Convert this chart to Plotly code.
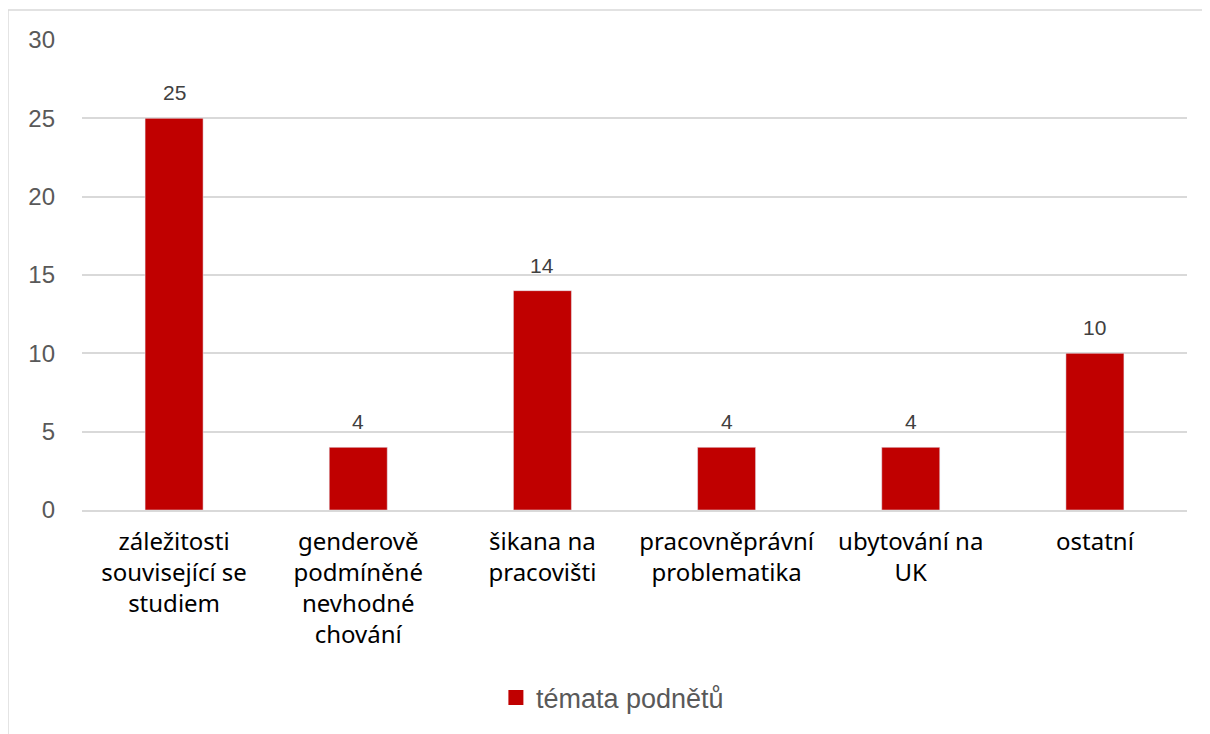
import plotly.graph_objects as go

categories = [
    "záležitosti<br>související se<br>studiem",
    "genderově<br>podmíněné<br>nevhodné<br>chování",
    "šikana na<br>pracovišti",
    "pracovněprávní<br>problematika",
    "ubytování na<br>UK",
    "ostatní",
]
values = [25, 4, 14, 4, 4, 10]
series_name = "témata podnětů"
y_ticks = [0, 5, 10, 15, 20, 25, 30]
bar_color = "#C00000"

fig = go.Figure()
fig.add_trace(go.Bar(
    x=categories, y=values, name=series_name,
    marker_color=bar_color, width=0.315, showlegend=False,
))
# legend entry with a larger square swatch
fig.add_trace(go.Scatter(
    x=[None], y=[None], mode="markers", name=series_name,
    marker=dict(symbol="square", size=15, color=bar_color),
))

for c, v in zip(categories, values):
    fig.add_annotation(x=c, y=v, text=str(v), showarrow=False,
                       yanchor="bottom", yshift=12,
                       font=dict(size=21, color="#404040", family="Liberation Sans"))

border = dict(color="#D9D9D9", width=1.5)
fig.add_shape(type="line", xref="paper", yref="paper",
              x0=-0.067, y0=1.064, x1=1.1, y1=1.064, line=border, layer="below")
fig.add_shape(type="line", xref="paper", yref="paper",
              x0=-0.067, y0=-0.5, x1=-0.067, y1=1.064, line=border, layer="below")

fig.update_layout(
    width=1194, height=726,
    margin=dict(l=74, r=15, t=32, b=224),
    paper_bgcolor="white", plot_bgcolor="white",
    showlegend=True,
    legend=dict(orientation="h", x=0.48, xanchor="center", y=-0.40, yanchor="middle",
                font=dict(size=27, color="#595959", family="Liberation Sans"),
                itemwidth=30),
    font=dict(family="Liberation Sans"),
)
fig.update_xaxes(
    tickfont=dict(size=24, color="#000000", family="Noto Sans"),
    showline=True, linecolor="#D9D9D9", linewidth=1.5,
    ticks="", ticklabelstandoff=9,
)
fig.update_yaxes(
    range=[0, 30], tickvals=y_ticks,
    tickfont=dict(size=24, color="#595959", family="Liberation Sans"),
    gridcolor="#D9D9D9", gridwidth=1.5,
    showline=False, zeroline=False, ticks="", ticklabelstandoff=26,
)

fig.write_html("out.html")
